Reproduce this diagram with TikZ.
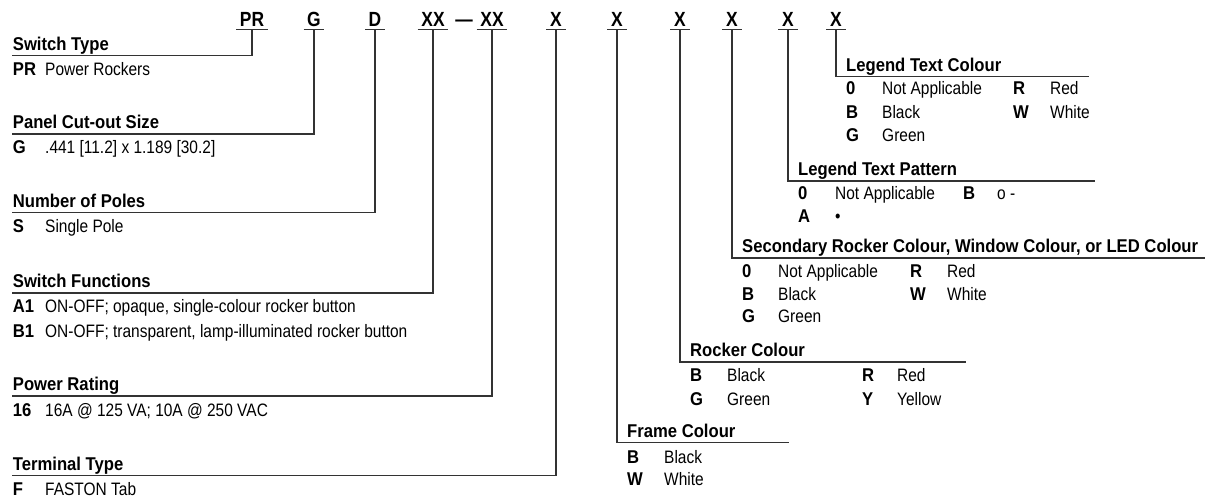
\documentclass[tikz,border=0pt]{standalone}
\usepackage{fontspec}
\setmainfont{Liberation Sans}
\newfontfamily\descfam{Liberation Sans}[FakeStretch=0.86]
\newfontfamily\boldfam{Liberation Sans}[FakeStretch=0.9]
\newfontfamily\codefam{Liberation Sans}[FakeStretch=0.85]
\begin{document}
\begin{tikzpicture}[x=1bp,y=-1bp,
  code/.style={font=\codefam\bfseries\fontsize{20.5bp}{22bp}\selectfont, inner xsep=3.5bp, inner ysep=2.6bp, anchor=base},
  head/.style={font=\boldfam\bfseries\fontsize{18.5bp}{20bp}\selectfont, inner sep=0, anchor=base west},
  key/.style={font=\boldfam\bfseries\fontsize{18.5bp}{20bp}\selectfont, inner sep=0, anchor=base west},
  desc/.style={font=\descfam\fontsize{18bp}{20bp}\selectfont, inner sep=0, anchor=base west},
  rule/.style={line width=1.3bp, draw=black!80}]
\useasboundingbox (0,0) rectangle (1217,497);

% ---- code row ----
\node[code] (cPR) at (252,26.7) {PR};
\node[code] (cG)  at (314,26.7) {G};
\node[code] (cD)  at (375,26.7) {D};
\node[code] (cXXa) at (433,26.7) {XX};
\node[code, inner xsep=0] (cdash) at (464,26.7) {—};
\node[code] (cXXb) at (492,26.7) {XX};
\node[code] (cXa) at (556,26.7) {X};
\node[code] (cXb) at (617,26.7) {X};
\node[code] (cXc) at (680,26.7) {X};
\node[code] (cXd) at (732,26.7) {X};
\node[code] (cXe) at (788,26.7) {X};
\node[code] (cXf) at (836,26.7) {X};
\foreach \n in {cPR,cG,cD,cXXa,cXXb,cXa,cXb,cXc,cXd,cXe,cXf}
  \draw[rule] (\n.south west) -- (\n.south east);

% ---- line end coordinates ----
\coordinate (lST) at (12,55.7);
\coordinate (lPC) at (12,134);
\coordinate (lNP) at (12,212.7);
\coordinate (lSF) at (12,293);
\coordinate (lPW) at (12,396);
\coordinate (lTT) at (12,475.7);
\coordinate (lFC) at (789,442.7);
\coordinate (lRC) at (966,362);
\coordinate (lSR) at (1205,258);
\coordinate (lLP) at (1095,181);
\coordinate (lLC) at (1089,76.7);

\draw[rule] (cPR.south) |- (lST);
\draw[rule] (cG.south) |- (lPC);
\draw[rule] (cD.south) |- (lNP);
\draw[rule] (cXXa.south) |- (lSF);
\draw[rule] (cXXb.south) |- (lPW);
\draw[rule] (cXa.south) |- (lTT);
\draw[rule] (cXb.south) |- (lFC);
\draw[rule] (cXc.south) |- (lRC);
\draw[rule] (cXd.south) |- (lSR);
\draw[rule] (cXe.south) |- (lLP);
\draw[rule] (cXf.south) |- (lLC);

% ---- left groups ----
\node[head] (hST) at (12.7,50.2) {Switch Type};
\node[key]  (kST1) at (12.7,76) {PR};
\node[desc] (dST1) at (45,76) {Power Rockers};

\node[head] (hPC) at (12.7,128.5) {Panel Cut-out Size};
\node[key]  (kPC1) at (12.7,154) {G};
\node[desc] (dPC1) at (45,154) {.441 [11.2] x 1.189 [30.2]};

\node[head] (hNP) at (12.7,207.2) {Number of Poles};
\node[key]  (kNP1) at (12.7,233) {S};
\node[desc] (dNP1) at (45,233) {Single Pole};

\node[head] (hSF) at (12.7,287.5) {Switch Functions};
\node[key]  (kSF1) at (12.7,312.5) {A1};
\node[desc] (dSF1) at (45,312.5) {ON-OFF; opaque, single-colour rocker button};
\node[key]  (kSF2) at (12.7,338) {B1};
\node[desc] (dSF2) at (45,338) {ON-OFF; transparent, lamp-illuminated rocker button};

\node[head] (hPW) at (12.7,390.5) {Power Rating};
\node[key]  (kPW1) at (12.7,416) {16};
\node[desc] (dPW1) at (45,416) {16A @ 125 VA; 10A @ 250 VAC};

\node[head] (hTT) at (12.7,470.2) {Terminal Type};
\node[key]  (kTT1) at (12.7,495.5) {F};
\node[desc] (dTT1) at (45,495.5) {FASTON Tab};

% ---- right groups ----
\node[head] (hFC) at (627,437.2) {Frame Colour};
\node[key]  (kFC1) at (627,463) {B};
\node[desc] (dFC1) at (664,463) {Black};
\node[key]  (kFC2) at (627,485) {W};
\node[desc] (dFC2) at (664,485) {White};

\node[head] (hRC) at (690,356.5) {Rocker Colour};
\node[key]  (kRC1) at (690,382) {B};
\node[desc] (dRC1) at (727,382) {Black};
\node[key]  (kRC2) at (862,382) {R};
\node[desc] (dRC2) at (897,382) {Red};
\node[key]  (kRC3) at (690,405) {G};
\node[desc] (dRC3) at (727,405) {Green};
\node[key]  (kRC4) at (862,405) {Y};
\node[desc] (dRC4) at (897,405) {Yellow};

\node[head] (hSR) at (742,252.5) {Secondary Rocker Colour, Window Colour, or LED Colour};
\node[key]  (kSR1) at (742,278) {0};
\node[desc] (dSR1) at (778,278) {Not Applicable};
\node[key]  (kSR2) at (910,278) {R};
\node[desc] (dSR2) at (947,278) {Red};
\node[key]  (kSR3) at (742,300.5) {B};
\node[desc] (dSR3) at (778,300.5) {Black};
\node[key]  (kSR4) at (910,300.5) {W};
\node[desc] (dSR4) at (947,300.5) {White};
\node[key]  (kSR5) at (742,323) {G};
\node[desc] (dSR5) at (778,323) {Green};

\node[head] (hLP) at (798,175.5) {Legend Text Pattern};
\node[key]  (kLP1) at (798,199.5) {0};
\node[desc] (dLP1) at (835,199.5) {Not Applicable};
\node[key]  (kLP2) at (963,199.5) {B};
\node[desc] (dLP2) at (997,199.5) {o -};
\node[key]  (kLP3) at (798,222.5) {A};
\node[desc] (dLP3) at (835,222.5) {•};

\node[head] (hLC) at (846,71.5) {Legend Text Colour};
\node[key]  (kLC1) at (846,95) {0};
\node[desc] (dLC1) at (882,95) {Not Applicable};
\node[key]  (kLC2) at (1013,95) {R};
\node[desc] (dLC2) at (1050,95) {Red};
\node[key]  (kLC3) at (846,118.3) {B};
\node[desc] (dLC3) at (882,118.3) {Black};
\node[key]  (kLC4) at (1013,118.3) {W};
\node[desc] (dLC4) at (1050,118.3) {White};
\node[key]  (kLC5) at (846,141.7) {G};
\node[desc] (dLC5) at (882,141.7) {Green};
\end{tikzpicture}
\end{document}
